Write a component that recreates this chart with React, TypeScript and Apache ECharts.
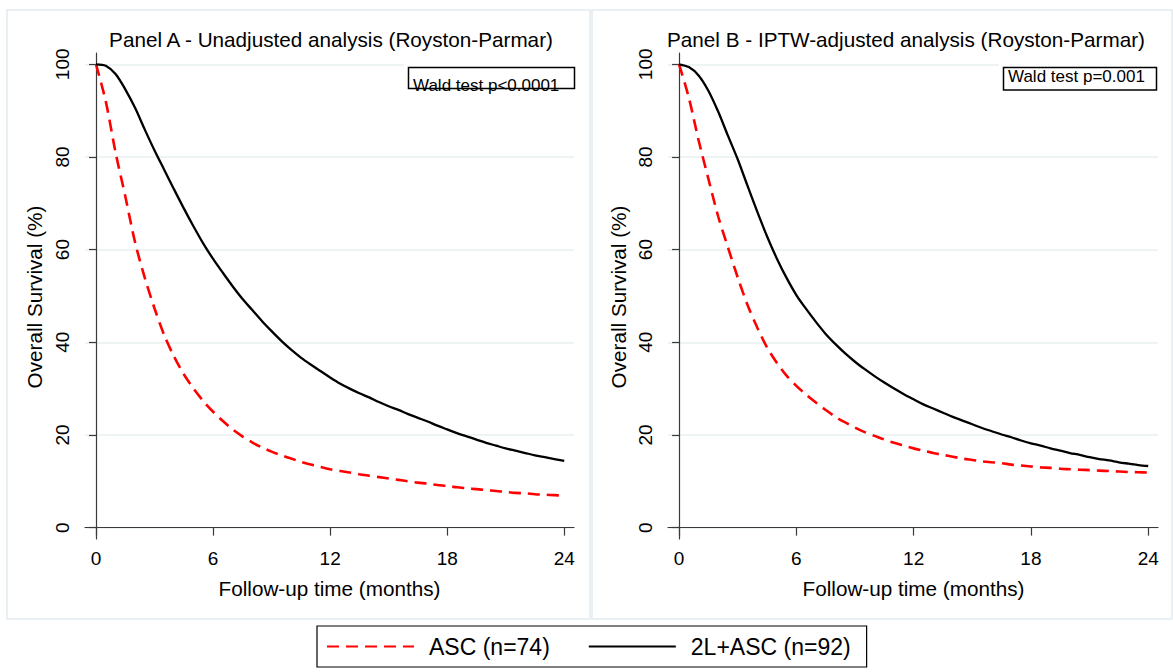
import React, { useEffect, useRef } from "react";
import * as echarts from "echarts";

// Follow-up time grid (months, every half month)
const months = [0, 0.5, 1, 1.5, 2, 2.5, 3, 3.5, 4, 4.5, 5, 5.5, 6, 6.5, 7, 7.5, 8, 8.5, 9, 9.5, 10, 10.5, 11, 11.5, 12, 12.5, 13, 13.5, 14, 14.5, 15, 15.5, 16, 16.5, 17, 17.5, 18, 18.5, 19, 19.5, 20, 20.5, 21, 21.5, 22, 22.5, 23, 23.5, 24];

// Panel A - unadjusted
const ascA = [100, 92.0, 81.0, 71.5, 61.6, 53.9, 47.3, 41.5, 36.9, 33.1, 30.0, 27.3, 25.0, 23.0, 21.2, 19.7, 18.4, 17.3, 16.4, 15.6, 14.9, 14.2, 13.6, 13.1, 12.6, 12.2, 11.9, 11.5, 11.2, 10.9, 10.6, 10.3, 10.0, 9.7, 9.5, 9.2, 9.0, 8.7, 8.5, 8.3, 8.1, 7.9, 7.7, 7.5, 7.4, 7.2, 7.1, 7.0, 6.9];
const comboA = [100, 99.7, 97.9, 94.6, 90.6, 85.9, 81.4, 77.2, 73.0, 68.9, 65.0, 61.3, 58.0, 55.0, 52.1, 49.4, 47.0, 44.6, 42.4, 40.3, 38.4, 36.7, 35.2, 33.8, 32.4, 31.1, 30.0, 29.0, 28.1, 27.1, 26.2, 25.4, 24.5, 23.7, 22.9, 22.0, 21.2, 20.4, 19.7, 19.0, 18.3, 17.7, 17.1, 16.6, 16.1, 15.6, 15.2, 14.8, 14.4];

// Panel B - IPTW adjusted
const ascB = [100, 92.8, 83.6, 75.3, 67.2, 60.5, 54.0, 48.1, 43.2, 38.9, 35.6, 32.8, 30.6, 28.7, 27.0, 25.4, 23.9, 22.7, 21.6, 20.6, 19.8, 19.0, 18.3, 17.7, 17.1, 16.6, 16.1, 15.7, 15.3, 14.9, 14.6, 14.3, 14.1, 13.9, 13.6, 13.4, 13.2, 13.0, 12.9, 12.7, 12.6, 12.5, 12.4, 12.3, 12.2, 12.1, 12.0, 11.95, 11.9];
const comboB = [100, 99.4, 97.6, 94.3, 89.8, 84.6, 79.5, 73.8, 68.2, 62.9, 58.1, 53.9, 50.2, 47.2, 44.4, 41.8, 39.6, 37.6, 35.8, 34.2, 32.7, 31.3, 30.0, 28.8, 27.7, 26.6, 25.7, 24.8, 23.9, 23.1, 22.3, 21.5, 20.8, 20.1, 19.5, 18.8, 18.2, 17.7, 17.1, 16.6, 16.1, 15.7, 15.2, 14.8, 14.5, 14.1, 13.8, 13.5, 13.3];

const xTicks = [0, 6, 12, 18, 24];
const yTicks = [0, 20, 40, 60, 80, 100];
const legendNames = ["ASC (n=74)", "2L+ASC (n=92)"];
const panelTitles = ["Panel A - Unadjusted analysis (Royston-Parmar)", "Panel B - IPTW-adjusted analysis (Royston-Parmar)"];
const waldLabels = ["Wald test p<0.0001", "Wald test p=0.001"];
const xAxisTitle = "Follow-up time (months)";
const yAxisTitle = "Overall Survival (%)";

const FONT = "'Liberation Sans', Arial, Helvetica, sans-serif";
const RED = "#ff0000";
const BLACK = "#000000";
const AXIS = "#3a3a3a";
const GRID = "#e9eff1";
const PANEL = "#e2ecf0";

const pairs = (vals: number[]) => months.map((t, i) => [t, vals[i]]);

function makeAxes(idx: number) {
  const x = {
    type: "value",
    gridIndex: idx,
    min: -0.565,
    max: 24.5,
    axisLine: { show: true, lineStyle: { color: AXIS, width: 1.2 } },
    axisTick: { show: true, length: 8, lineStyle: { color: AXIS, width: 1.2 }, customValues: xTicks },
    axisLabel: { customValues: xTicks, fontSize: 19, color: BLACK, fontFamily: FONT, margin: 10 },
    splitLine: { show: false },
  };
  const y = {
    type: "value",
    gridIndex: idx,
    min: -2.46,
    max: 102.44,
    axisLine: { show: true, lineStyle: { color: AXIS, width: 1.2 } },
    axisTick: { show: true, length: 7, lineStyle: { color: AXIS, width: 1.2 }, customValues: yTicks },
    axisLabel: { customValues: yTicks, rotate: 90, fontSize: 19, color: BLACK, fontFamily: FONT, margin: 13 },
    splitLine: { show: true, lineStyle: { color: GRID, width: 1.5 } },
  };
  return { x, y };
}

function lineSeries(name: string, vals: number[], idx: number, red: boolean) {
  return {
    type: "line",
    name,
    xAxisIndex: idx,
    yAxisIndex: idx,
    data: pairs(vals),
    symbol: "none",
    showSymbol: false,
    smooth: 0.3,
    z: red ? 3 : 4,
    itemStyle: { color: red ? RED : BLACK },
    lineStyle: red ? { color: RED, width: 2.6, type: [12, 7] } : { color: BLACK, width: 2.3, type: "solid" },
  };
}

export default function App() {
  const ref = useRef<HTMLDivElement>(null);
  useEffect(() => {
    if (!ref.current) return;
    const chart = echarts.init(ref.current, undefined, { renderer: "svg" });
    const a = makeAxes(0);
    const b = makeAxes(1);
    const text = (t: string, x: number, y: number, size: number, rot = 0, align = "center") => ({
      type: "text",
      x,
      y,
      rotation: rot,
      z: 20,
      style: { text: t, fontSize: size, fontFamily: FONT, fill: BLACK, textAlign: align, textVerticalAlign: "middle" },
    });
    const option: any = {
      animation: false,
      backgroundColor: "#ffffff",
      grid: [
        { left: 85, top: 53, width: 489, height: 486 },
        { left: 668, top: 53, width: 490, height: 486 },
      ],
      xAxis: [a.x, b.x],
      yAxis: [a.y, b.y],
      legend: {
        data: legendNames,
        left: 317,
        top: 626,
        padding: [9, 16, 9, 9],
        borderColor: "#000",
        borderWidth: 1.2,
        backgroundColor: "#fff",
        itemWidth: 87,
        itemHeight: 14,
        itemGap: 38,
        itemStyle: { opacity: 0 },
        textStyle: { fontSize: 23, color: BLACK, fontFamily: FONT, padding: [0, 0, 0, 10] },
        selectedMode: false,
      },
      series: [
        lineSeries(legendNames[0], ascA, 0, true),
        lineSeries(legendNames[1], comboA, 0, false),
        lineSeries(legendNames[0], ascB, 1, true),
        lineSeries(legendNames[1], comboB, 1, false),
      ],
      graphic: [
        { type: "rect", z: -10, shape: { x: 7, y: 10, width: 583, height: 609 }, style: { fill: "none", stroke: PANEL, lineWidth: 1.5 } },
        { type: "rect", z: -10, shape: { x: 592, y: 10, width: 580, height: 609 }, style: { fill: "none", stroke: PANEL, lineWidth: 1.5 } },
        text(panelTitles[0], 331, 39, 20.7),
        text(panelTitles[1], 906, 39, 20.7),
        text(yAxisTitle, 34, 297, 20.7, Math.PI / 2),
        text(yAxisTitle, 618, 297, 20.7, Math.PI / 2),
        text(xAxisTitle, 329.5, 588, 20.7),
        text(xAxisTitle, 913.5, 588, 20.7),
        { type: "rect", z: 15, shape: { x: 404, y: 61, width: 175, height: 32 }, style: { fill: "#fff", stroke: "none" } },
        { type: "rect", z: 16, shape: { x: 408.5, y: 67.5, width: 166, height: 21 }, style: { fill: "#fff", stroke: BLACK, lineWidth: 1.5 } },
        text(waldLabels[0], 413, 85, 17, 0, "left"),
        { type: "rect", z: 15, shape: { x: 999, y: 61, width: 162, height: 32 }, style: { fill: "#fff", stroke: "none" } },
        { type: "rect", z: 16, shape: { x: 1003.5, y: 67.5, width: 153, height: 22.5 }, style: { fill: "#fff", stroke: BLACK, lineWidth: 1.5 } },
        text(waldLabels[1], 1008, 76.5, 17, 0, "left"),
      ],
    };
    chart.setOption(option);
    return () => chart.dispose();
  }, []);
  return <div ref={ref} style={{ position: "fixed", left: 0, top: 0, width: 1173, height: 672, background: "#fff" }} />;
}
